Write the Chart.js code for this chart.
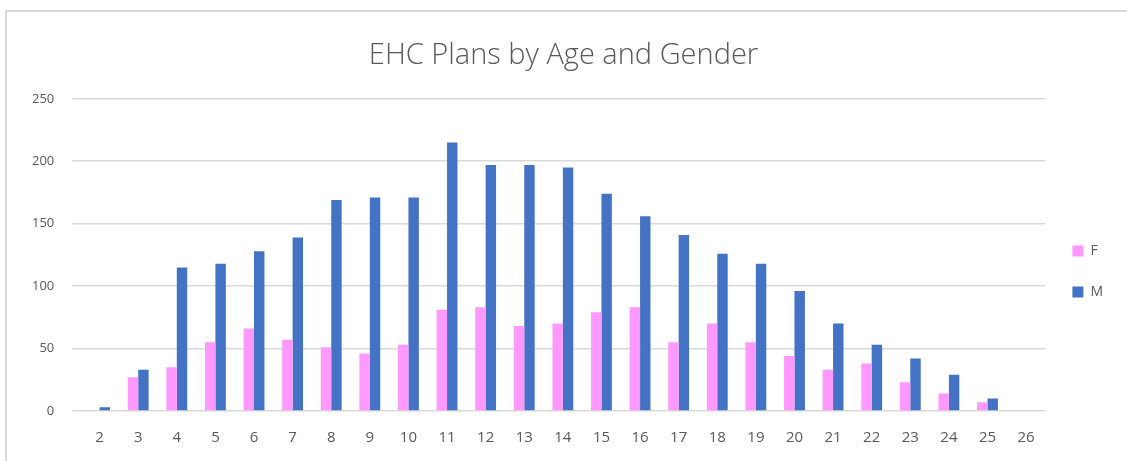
<!DOCTYPE html>
<html>
<head>
<meta charset="utf-8">
<script src="https://cdn.jsdelivr.net/npm/chart.js@4"></script>
<style>
  html, body { margin: 0; padding: 0; background: #fff; }
  #frame {
    position: absolute; left: 5px; top: 10px; width: 1130px; height: 460px;
    border-top: 2px solid #d9d9d9; border-left: 2px solid #d9d9d9;
  }
  #wrap { position: absolute; left: 0; top: 0; width: 1127px; height: 461px; }
</style>
</head>
<body>
<div id="frame"></div>
<div id="wrap"><canvas id="ehcChart"></canvas></div>
<script>
const ages = ["2","3","4","5","6","7","8","9","10","11","12","13","14","15","16","17","18","19","20","21","22","23","24","25","26"];
const femaleCounts = [0,27,35,55,66,57,51,46,53,81,83,68,70,79,83,55,70,55,44,33,38,23,14,7,0];
const maleCounts = [3,33,115,118,128,139,169,171,171,215,197,197,195,174,156,141,126,118,96,70,53,42,29,10,0];
const yTicks = [0, 50, 100, 150, 200, 250];

const grey = "#595959";

new Chart(document.getElementById("ehcChart"), {
  type: "bar",
  data: {
    labels: ages,
    datasets: [
      {
        label: "F",
        data: femaleCounts,
        backgroundColor: "#ff99ff",
        barPercentage: 1,
        categoryPercentage: 0.54,
      },
      {
        label: "M",
        data: maleCounts,
        backgroundColor: "#4472c4",
        barPercentage: 1,
        categoryPercentage: 0.54,
      },
    ],
  },
  options: {
    responsive: true,
    maintainAspectRatio: false,
    animation: false,
    layout: { padding: { left: 14, right: 14, top: 32, bottom: 4 } },
    scales: {
      x: {
        grid: { display: false },
        border: { display: false },
        ticks: { color: grey, font: { family: "Open Sans", size: 15 }, padding: 10 },
      },
      y: {
        min: yTicks[0],
        max: yTicks[yTicks.length - 1],
        afterBuildTicks: (axis) => {
          axis.ticks = yTicks.map((v) => ({ value: v }));
        },
        grid: { color: "#d9d9d9", lineWidth: 1.5 },
        border: { display: false },
        ticks: { color: grey, font: { family: "Open Sans", size: 13 }, padding: 18 },
      },
    },
    plugins: {
      title: {
        display: true,
        text: "EHC Plans by Age and Gender",
        color: grey,
        font: { family: "Open Sans", size: 29, weight: "300" },
        padding: { top: 6, bottom: 26 },
      },
      legend: {
        position: "right",
        title: { display: true, text: " ", font: { size: 10 }, padding: 21 },
        labels: {
          color: grey,
          font: { family: "Open Sans", size: 14 },
          boxWidth: 11,
          boxHeight: 11,
          padding: 27,
        },
      },
      tooltip: { enabled: false },
    },
  },
});
</script>
</body>
</html>
